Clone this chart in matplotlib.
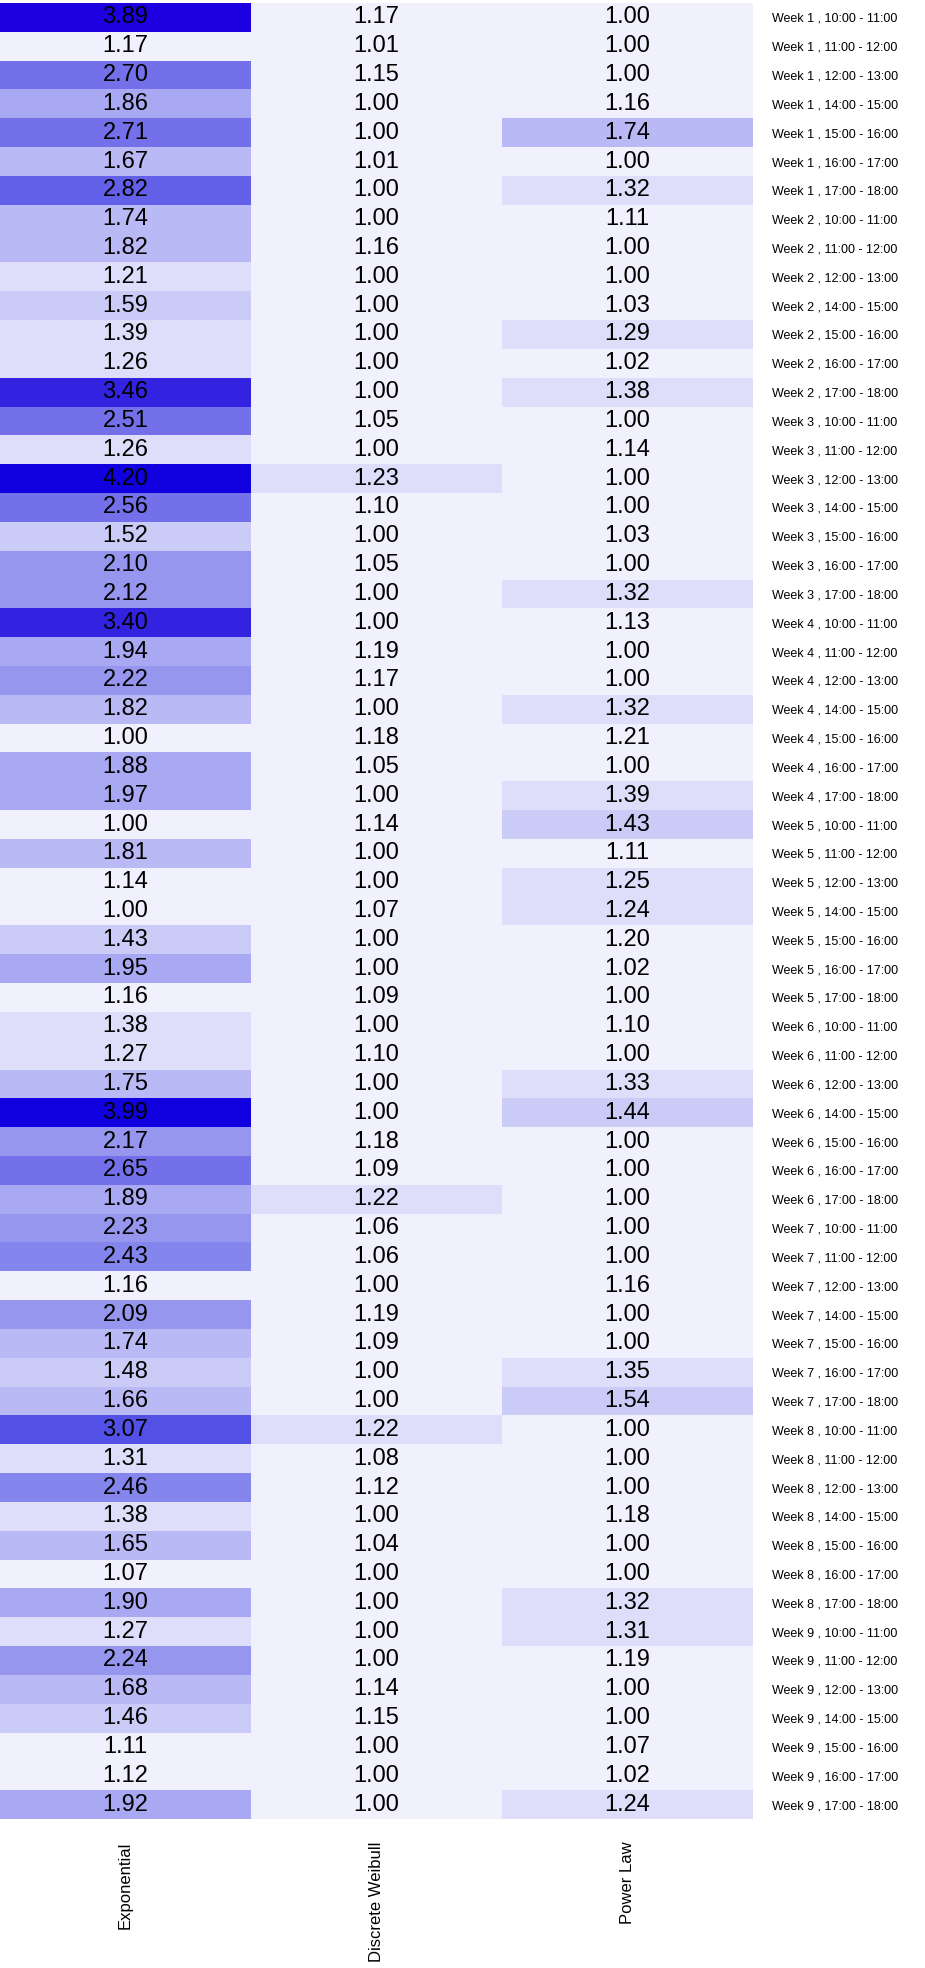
import numpy as np
import matplotlib
matplotlib.use("Agg")
import matplotlib.pyplot as plt
from matplotlib.colors import ListedColormap, BoundaryNorm

plt.rcParams['font.family'] = ['Liberation Sans', 'DejaVu Sans']

models = ["Exponential", "Discrete Weibull", "Power Law"]
weeks = [1, 2, 3, 4, 5, 6, 7, 8, 9]
slots = ["10:00 - 11:00", "11:00 - 12:00", "12:00 - 13:00", "14:00 - 15:00",
         "15:00 - 16:00", "16:00 - 17:00", "17:00 - 18:00"]
row_labels = [f"Week {w} , {s}" for w in weeks for s in slots]

exponential = [3.89, 1.17, 2.70, 1.86, 2.706, 1.67, 2.82,
               1.74, 1.82, 1.214, 1.59, 1.39, 1.26, 3.46,
               2.51, 1.26, 4.20, 2.56, 1.52, 2.10, 2.12,
               3.40, 1.94, 2.22, 1.82, 1.00, 1.88, 1.97,
               1.00, 1.81, 1.14, 1.00, 1.43, 1.95, 1.16,
               1.38, 1.27, 1.75, 3.99, 2.17, 2.65, 1.89,
               2.23, 2.43, 1.16, 2.09, 1.74, 1.48, 1.66,
               3.07, 1.31, 2.46, 1.38, 1.65, 1.07, 1.90,
               1.27, 2.24, 1.68, 1.46, 1.11, 1.12, 1.92]
discrete_weibull = [1.17, 1.01, 1.15, 1.00, 1.00, 1.01, 1.00,
                    1.00, 1.16, 1.00, 1.00, 1.00, 1.00, 1.00,
                    1.05, 1.00, 1.23, 1.10, 1.00, 1.05, 1.00,
                    1.00, 1.19, 1.17, 1.00, 1.18, 1.05, 1.00,
                    1.14, 1.00, 1.00, 1.07, 1.00, 1.00, 1.09,
                    1.00, 1.10, 1.00, 1.00, 1.18, 1.09, 1.22,
                    1.06, 1.06, 1.00, 1.19, 1.09, 1.00, 1.00,
                    1.22, 1.08, 1.12, 1.00, 1.04, 1.00, 1.00,
                    1.00, 1.00, 1.14, 1.15, 1.00, 1.00, 1.00]
power_law = [1.00, 1.00, 1.00, 1.16, 1.74, 1.00, 1.32,
             1.11, 1.00, 1.00, 1.03, 1.29, 1.02, 1.38,
             1.00, 1.14, 1.00, 1.00, 1.03, 1.00, 1.32,
             1.13, 1.00, 1.00, 1.32, 1.21, 1.00, 1.39,
             1.43, 1.11, 1.25, 1.24, 1.20, 1.02, 1.00,
             1.10, 1.00, 1.33, 1.44, 1.00, 1.00, 1.00,
             1.00, 1.00, 1.16, 1.00, 1.00, 1.35, 1.54,
             1.00, 1.00, 1.00, 1.18, 1.00, 1.00, 1.32,
             1.31, 1.19, 1.00, 1.00, 1.07, 1.02, 1.24]

data = np.column_stack([exponential, discrete_weibull, power_law])
nrows, ncols = data.shape

level_colors = ["#f1f1fd", "#dedefa", "#cbcbf8", "#b9b9f5", "#a8a8f3",
                "#9696ef", "#8585ee", "#7370ea", "#6260e8", "#5250e5",
                "#4238e3", "#3322e0", "#2810e0", "#1c00e0", "#1000e0"]
cmap = ListedColormap(level_colors)
bounds = np.linspace(data.min(), data.max(), len(level_colors) + 1)
bounds[-1] += 1e-6
norm = BoundaryNorm(bounds, cmap.N)

fig = plt.figure(figsize=(9.25, 19.68), dpi=100)
ax = fig.add_axes([0.0, 1 - 1819 / 1968, 753 / 925, (1819 - 3) / 1968])
ax.pcolormesh(np.arange(ncols + 1), np.arange(nrows + 1), data,
              cmap=cmap, norm=norm, edgecolors='none')
ax.set_xlim(0, ncols)
ax.set_ylim(nrows, 0)

for i in range(nrows):
    for j in range(ncols):
        ax.text(j + 0.5, i + 0.5, f"{data[i, j]:.2f}", ha='center', va='center',
                fontsize=17, color='black')

ax.set_xticks(np.arange(ncols) + 0.5)
ax.set_xticklabels(models, rotation=90, fontsize=12, va='top')
ax.set_yticks(np.arange(nrows) + 0.5)
ax.set_yticklabels(row_labels, fontsize=9)
ax.yaxis.tick_right()
ax.tick_params(axis='y', length=0, pad=14)
ax.tick_params(axis='x', length=0, pad=16)
for s in ax.spines.values():
    s.set_visible(False)

fig.savefig("out.png", dpi=100)
